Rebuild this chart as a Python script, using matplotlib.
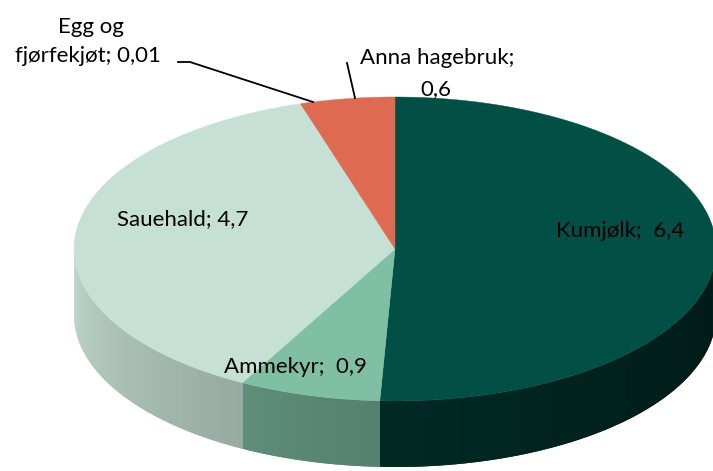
import numpy as np
import matplotlib
matplotlib.use("Agg")
import matplotlib.pyplot as plt
from matplotlib.colors import to_rgb

# data
labels = ["Kumjølk", "Ammekyr", "Sauehald", "Egg og fjørfekjøt", "Anna hagebruk"]
values = [6.4, 0.9, 4.7, 0.01, 0.6]
value_txt = ["6,4", "0,9", "4,7", "0,01", "0,6"]
top_colors = ["#024f46", "#7fbfa3", "#c6e0d5", "#c6e0d5", "#df6a52"]
side_colors = ["#013c34", "#7cbba0", "#c6e0d5", "#c6e0d5", "#df6a52"]

# geometry of the 3D pie in pixel coords
CX, CY, A, B, DEPTH = 395, 249, 321, 152, 66

plt.rcParams["font.family"] = ["Lato", "DejaVu Sans"]

fig = plt.figure(figsize=(7.13, 4.71), dpi=100)
ax = fig.add_axes([0, 0, 1, 1])
ax.set_xlim(0, 713)
ax.set_ylim(471, 0)
ax.axis("off")


def pt(theta_deg, dy=0.0):
    t = np.radians(theta_deg)
    return CX + A * np.cos(t), CY - B * np.sin(t) + dy


def shade(theta_deg):
    # side wall brightness: light at the left, dark at the right
    th = theta_deg % 360
    u = np.clip((th - 180) / 180, 0, 1)
    return 0.97 - 0.55 * u ** 0.9


# slice angles, clockwise from 12 o'clock
total = sum(values)
edges = 90 - 360 * np.concatenate([[0], np.cumsum(values)]) / total

# side walls (front half only, 180..360 deg)
for i, c in enumerate(side_colors):
    start, end = edges[i], edges[i + 1]
    lo, hi = end % 360, start % 360
    if hi <= lo:
        hi += 360
    segs = []
    for off in (0, 360, -360):
        a0 = max(lo, 180 + off)
        a1 = min(hi, 360 + off)
        if a1 > a0:
            segs.append((a0, a1))
    base = np.array(to_rgb(c))
    for a0, a1 in segs:
        steps = np.linspace(a0, a1, max(2, int((a1 - a0) * 2)))
        for s0, s1 in zip(steps[:-1], steps[1:]):
            tt = np.linspace(s0, min(s1 + 0.6, a1), 4)
            xs, ys = pt(tt)
            xb, yb = pt(tt[::-1], DEPTH)
            col = np.clip(base * shade((s0 + s1) / 2), 0, 1)
            ax.fill(np.r_[xs, xb], np.r_[ys, yb], color=col, lw=0)

# top faces
for i, c in enumerate(top_colors):
    tt = np.linspace(edges[i], edges[i + 1], 200)
    xs, ys = pt(tt)
    ax.fill(np.r_[CX, xs], np.r_[CY, ys], color=c, lw=0.3, ec=c)

fs = 16
kw = dict(va="baseline", fontsize=fs, color="black")
ax.text(620, 237, f"{labels[0]};  {value_txt[0]}", ha="center", **kw)
ax.text(295, 373, f"{labels[1]};  {value_txt[1]}", ha="center", **kw)
ax.text(183, 225, f"{labels[2]}; {value_txt[2]}", ha="center", **kw)
egg1, egg2 = labels[3].split(" ", 2)[:2], labels[3].split(" ", 2)[2]
ax.text(91, 33, " ".join(egg1), ha="center", **kw)
ax.text(88, 62, f"{egg2}; {value_txt[3]}", ha="center", **kw)
ax.text(437, 64, f"{labels[4]};", ha="center", **kw)
ax.text(436, 95, value_txt[4], ha="center", **kw)

# leader lines
ax.plot([178, 190, 313], [62, 62, 102], color="black", lw=1.3)
ax.plot([347, 355], [63, 98], color="black", lw=1.3)

fig.savefig("out.png", dpi=100)
